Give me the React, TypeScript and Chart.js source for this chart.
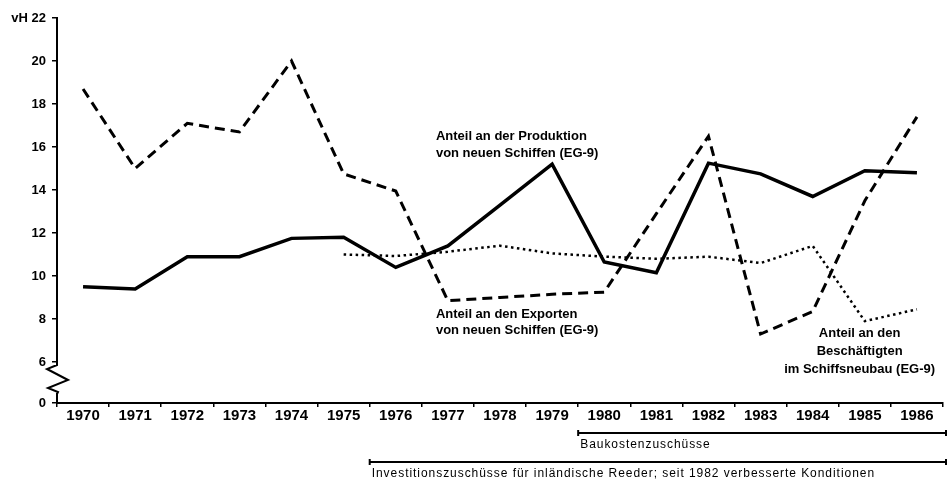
import React, { useEffect, useRef } from "react";
import { Chart, registerables } from "chart.js";

Chart.register(...registerables);

const years = ["1970", "1971", "1972", "1973", "1974", "1975", "1976", "1977", "1978", "1979", "1980", "1981", "1982", "1983", "1984", "1985", "1986"];
const production = [9.5, 9.4, 10.9, 10.9, 11.75, 11.8, 10.4, 11.4, 13.3, 15.2, 10.65, 10.15, 15.25, 14.75, 13.7, 14.9, 14.8];
const exportsShare = [18.7, 15.0, 17.1, 16.7, 20.0, 14.75, 13.95, 8.85, 9.0, 9.15, 9.25, 12.9, 16.5, 7.3, 8.35, 13.5, 17.4];
const employment = [null, null, null, null, null, 11.0, 10.93, 11.13, 11.41, 11.05, 10.9, 10.8, 10.9, 10.6, 11.4, 7.9, 8.45];
const yTickValues = [4.093, 6, 8, 10, 12, 14, 16, 18, 20, 22];
const yTickLabels = ["0", "6", "8", "10", "12", "14", "16", "18", "20", "vH 22"];

const labelProduction = ["Anteil an der Produktion", "von neuen Schiffen (EG-9)"];
const labelExports = ["Anteil an den Exporten", "von neuen Schiffen (EG-9)"];
const labelEmployment = ["Anteil an den", "Beschäftigten", "im Schiffsneubau (EG-9)"];
const bracketBau = "Baukostenzuschüsse";
const bracketInv = "Investitionszuschüsse für inländische Reeder; seit 1982 verbesserte Konditionen";

const FONT = '"Liberation Sans", Arial, sans-serif';

const overlayPlugin = {
  id: "overlay",
  afterDraw(chart: any) {
    const ctx = chart.ctx;
    const x = chart.scales.x;
    const y = chart.scales.y;
    const area = chart.chartArea;
    ctx.save();
    ctx.fillStyle = "#000";
    ctx.strokeStyle = "#000";

    // axis break zigzag
    const ax = area.left;
    const y6 = y.getPixelForValue(6);
    ctx.fillStyle = "#fff";
    ctx.fillRect(ax - 2, y6 + 3, 4, 28);
    ctx.fillStyle = "#000";
    ctx.lineWidth = 2;
    ctx.beginPath();
    ctx.moveTo(ax, y6 + 2);
    ctx.lineTo(ax, y6 + 3);
    ctx.lineTo(ax - 10, y6 + 7);
    ctx.lineTo(ax + 11, y6 + 18);
    ctx.lineTo(ax - 9, y6 + 26);
    ctx.lineTo(ax + 1, y6 + 30);
    ctx.lineTo(ax, y6 + 32);
    ctx.stroke();

    // annotations
    ctx.font = "bold 13px " + FONT;
    ctx.textBaseline = "middle";
    ctx.textAlign = "left";
    const px = x.getPixelForValue(6.77);
    ctx.fillText(labelProduction[0], px, y.getPixelForValue(16.51));
    ctx.fillText(labelProduction[1], px, y.getPixelForValue(15.72));
    ctx.fillText(labelExports[0], px, y.getPixelForValue(8.23));
    ctx.fillText(labelExports[1], px, y.getPixelForValue(7.49));
    ctx.textAlign = "center";
    const ex = x.getPixelForValue(14.9);
    ctx.fillText(labelEmployment[0], ex, y.getPixelForValue(7.35));
    ctx.fillText(labelEmployment[1], ex, y.getPixelForValue(6.47));
    ctx.fillText(labelEmployment[2], ex, y.getPixelForValue(5.67));

    // brackets
    const right = area.right + 4;
    const drawBracket = (startIdx: number, dy: number, text: string) => {
      const sx = x.getPixelForValue(startIdx - 0.5);
      const ly = area.bottom + dy;
      ctx.lineWidth = 2;
      ctx.beginPath();
      ctx.moveTo(sx, ly);
      ctx.lineTo(right, ly);
      ctx.moveTo(sx, ly - 3);
      ctx.lineTo(sx, ly + 3);
      ctx.moveTo(right - 1, ly - 3);
      ctx.lineTo(right - 1, ly + 3);
      ctx.stroke();
      ctx.font = "12px " + FONT;
      (ctx as any).letterSpacing = "0.95px";
      ctx.textAlign = "left";
      ctx.textBaseline = "middle";
      ctx.fillText(text, sx + 2, ly + 12);
      (ctx as any).letterSpacing = "0px";
    };
    drawBracket(10, 30, bracketBau);
    drawBracket(6, 59, bracketInv);
    ctx.restore();
  },
};

export default function App() {
  const ref = useRef<HTMLCanvasElement>(null);
  useEffect(() => {
    document.body.style.margin = "0";
    const canvas = ref.current;
    if (!canvas) return;
    const chart = new Chart(canvas, {
      type: "line",
      data: {
        labels: years,
        datasets: [
          {
            data: exportsShare,
            borderColor: "#000",
            borderWidth: 3,
            borderDash: [10, 6],
            pointRadius: 0,
            tension: 0,
            fill: false,
          },
          {
            data: production,
            borderColor: "#000",
            borderWidth: 3.5,
            pointRadius: 0,
            tension: 0,
            fill: false,
          },
          {
            data: employment,
            borderColor: "#000",
            borderWidth: 2.5,
            borderDash: [2.5, 3.5],
            pointRadius: 0,
            tension: 0,
            fill: false,
            spanGaps: false,
          },
        ],
      },
      options: {
        responsive: false,
        animation: false,
        devicePixelRatio: 1,
        layout: { padding: { top: 18, right: 5, left: 0, bottom: 0 } },
        plugins: { legend: { display: false }, tooltip: { enabled: false } },
        scales: {
          x: {
            type: "category",
            offset: true,
            afterFit: (s: any) => {
              s.height = 79;
            },
            grid: { offset: true, drawOnChartArea: false, drawTicks: true, tickLength: 4, color: "#000", lineWidth: 1.5 },
            border: { display: true, color: "#000", width: 2 },
            ticks: { color: "#000", font: { family: FONT, size: 15, weight: "bold" }, padding: 0, maxRotation: 0, autoSkip: false },
          },
          y: {
            type: "linear",
            min: 4.093,
            max: 22,
            afterBuildTicks: (s: any) => {
              s.ticks = yTickValues.map((v) => ({ value: v }));
            },
            afterFit: (s: any) => {
              s.width = 57;
            },
            grid: { drawOnChartArea: false, drawTicks: true, tickLength: 5, color: "#000", lineWidth: 1.5 },
            border: { display: true, color: "#000", width: 2 },
            ticks: {
              color: "#000",
              font: { family: FONT, size: 13, weight: "bold" },
              padding: 6,
              callback: (_v: any, i: number) => yTickLabels[i],
            },
          },
        },
      },
      plugins: [overlayPlugin],
    } as any);
    return () => chart.destroy();
  }, []);
  return (
    <div style={{ width: 948, height: 482, position: "relative", background: "#fff" }}>
      <canvas ref={ref} width={948} height={482} style={{ width: 948, height: 482, display: "block" }} />
    </div>
  );
}
